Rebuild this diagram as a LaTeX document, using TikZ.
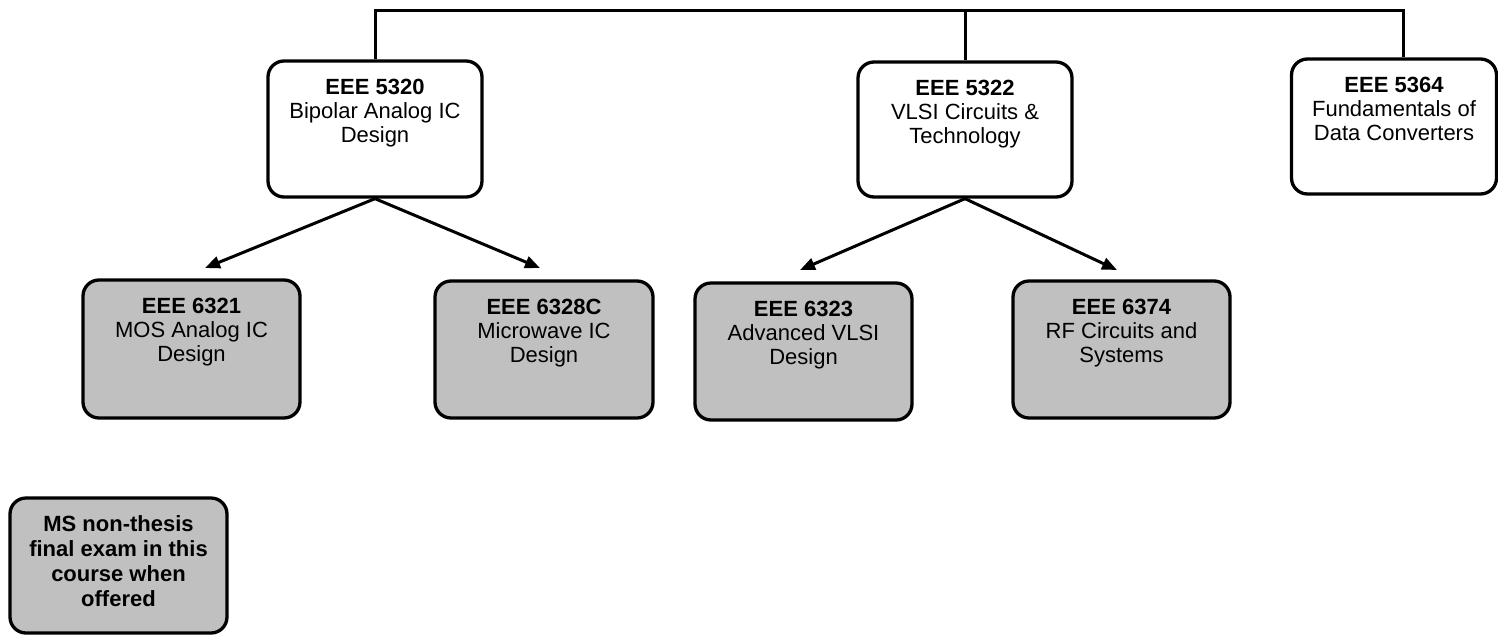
\documentclass[tikz,border=0pt]{standalone}
\usepackage{fontspec}
\setmainfont{Liberation Sans}
\usetikzlibrary{arrows.meta}
\definecolor{boxgray}{RGB}{192,192,192}
\newcommand{\boxtxt}[3]{\parbox[c][#2][t]{#1}{\centering\rule{0pt}{33pt}#3\par}}
\begin{document}
\begin{tikzpicture}[x=1pt,y=-1pt,
  font=\fontsize{22}{24}\selectfont,
  course/.style={draw=black, line width=3.3pt, rounded corners=16pt, inner sep=0pt, fill=white},
  elective/.style={course, fill=boxgray},
  link/.style={line width=3pt},
  arr/.style={link, -{Triangle[length=15pt,width=12pt]}}]
\fill[white] (0,0) rectangle (1498,635);
\useasboundingbox (0,0) rectangle (1498,635);

% core courses
\node[course] (b5320) at (375,129) {\boxtxt{214pt}{136pt}{\textbf{EEE 5320}\\Bipolar Analog IC\\Design}};
\node[course] (b5322) at (965,129.5) {\boxtxt{214pt}{135pt}{\textbf{EEE 5322}\\VLSI Circuits \&\\Technology}};
\node[course] (b5364) at (1394,126.5) {\boxtxt{205pt}{135pt}{\textbf{EEE 5364}\\Fundamentals of\\Data Converters}};

% advanced courses
\node[elective] (b6321) at (191.5,349) {\boxtxt{217pt}{138pt}{\textbf{EEE 6321}\\MOS Analog IC\\Design}};
\node[elective] (b6328) at (544,349.5) {\boxtxt{218pt}{137pt}{\textbf{EEE 6328C}\\Microwave IC\\Design}};
\node[elective] (b6323) at (803.5,351.5) {\boxtxt{217pt}{137pt}{\textbf{EEE 6323}\\Advanced VLSI\\Design}};
\node[elective] (b6374) at (1121.5,349.5) {\boxtxt{217pt}{137pt}{\textbf{EEE 6374}\\RF Circuits and\\Systems}};

% legend
\node[elective] (legend) at (118.5,565.5) {\boxtxt{217pt}{135pt}{\fontsize{22}{25}\selectfont\bfseries MS non-thesis\\final exam in this\\course when\\offered}};

% top bracket
\coordinate (tl) at (375,10);
\coordinate (tr) at (1403,10);
\draw[link] (b5320.north) -- (tl) -- (tr) -- (tr |- b5364.north);
\draw[link] (b5322.north) -- (b5322.north |- tl);

% arrows
\coordinate (t6321) at (205,268);
\coordinate (t6328) at (540,268);
\coordinate (t6323) at (800,270);
\coordinate (t6374) at (1117,270);
\draw[arr] (b5320.south) -- (t6321);
\draw[arr] (b5320.south) -- (t6328);
\draw[arr] (b5322.south) -- (t6323);
\draw[arr] (b5322.south) -- (t6374);
\end{tikzpicture}
\end{document}
